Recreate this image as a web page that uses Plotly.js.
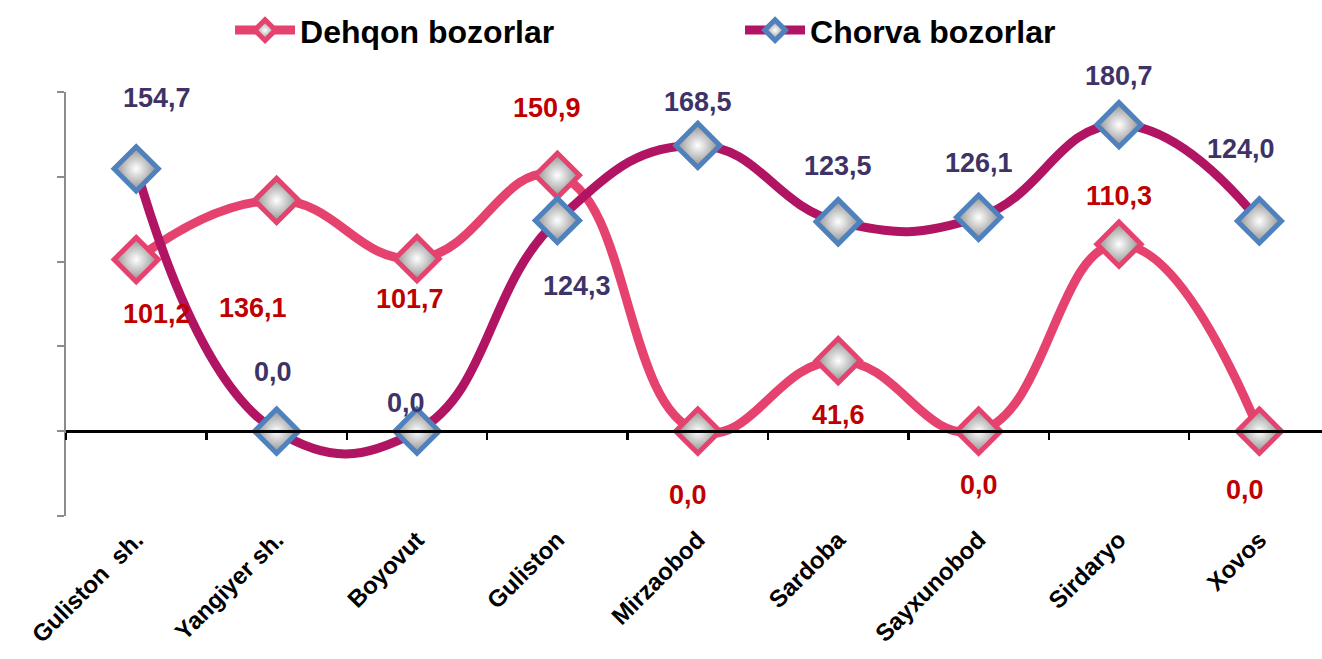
<!DOCTYPE html>
<html>
<head>
<meta charset="utf-8">
<script src="https://cdn.plot.ly/plotly-3.0.1.min.js"></script>
<style>html,body{margin:0;padding:0;background:#fff;}#chart{width:1322px;height:659px;}</style>
</head>
<body>
<div id="chart"></div>
<script>
// ---- data ----
const categories = ["Guliston  sh.", "Yangiyer sh.", "Boyovut", "Guliston", "Mirzaobod", "Sardoba", "Sayxunobod", "Sirdaryo", "Xovos"];
const dehqonName = "Dehqon bozorlar";
const chorvaName = "Chorva bozorlar";
const dehqonValues = [101.2, 136.1, 101.7, 150.9, 0.0, 41.6, 0.0, 110.3, 0.0];
const chorvaValues = [154.7, 0.0, 0.0, 124.3, 168.5, 123.5, 126.1, 180.7, 124.0];
const yTickVals = [-50, 0, 50, 100, 150, 200];

// ---- label offsets (pixels, layout only) ----
const dehqonLabelShift = [[21,-54],[-24,-108],[-7,-40],[-10,67],[-10,-64],[0,-54],[0,-54],[0,48],[-14,-59]];
const chorvaLabelShift = [[21,71],[-4,59],[-11,28],[20,-66],[0,43],[0,56],[0,54],[0,49],[-18,72]];

const fmt = v => v.toFixed(1).replace('.', ',');
const FONT = '"Liberation Sans", Arial, sans-serif';

const dehqonColor = '#E5426F';
const chorvaColor = '#B01462';

const traces = [
  {
    type: 'scatter', mode: 'lines+markers', name: dehqonName,
    x: categories, y: dehqonValues,
    line: {color: dehqonColor, width: 9, shape: 'spline', smoothing: 1.3},
    marker: {symbol: 'diamond', size: 34, color: '#8c8c8c',
             gradient: {type: 'radial', color: '#ffffff'},
             line: {color: dehqonColor, width: 5}},
    hoverinfo: 'skip'
  },
  {
    type: 'scatter', mode: 'lines+markers', name: chorvaName,
    x: categories, y: chorvaValues,
    line: {color: chorvaColor, width: 9, shape: 'spline', smoothing: 1.3},
    marker: {symbol: 'diamond', size: 34, color: '#8c8c8c',
             gradient: {type: 'radial', color: '#ffffff'},
             line: {color: '#4F81BD', width: 5}},
    hoverinfo: 'skip'
  }
];

const annotations = [];
dehqonValues.forEach((v, i) => annotations.push({
  x: categories[i], y: v, xref: 'x', yref: 'y', text: fmt(v), showarrow: false,
  xshift: dehqonLabelShift[i][0], yshift: dehqonLabelShift[i][1],
  font: {family: FONT, size: 27, color: '#C00000', weight: 700}
}));
chorvaValues.forEach((v, i) => annotations.push({
  x: categories[i], y: v, xref: 'x', yref: 'y', text: fmt(v), showarrow: false,
  xshift: chorvaLabelShift[i][0], yshift: chorvaLabelShift[i][1],
  font: {family: FONT, size: 27, color: '#3D3366', weight: 700}
}));

const boundaries = categories.map((c, i) => i - 0.5).concat([categories.length - 0.5]);
const xRange = [-0.5, 8.446];

const layout = {
  width: 1322, height: 659,
  margin: {l: 66, r: 0, t: 92, b: 143},
  paper_bgcolor: '#ffffff', plot_bgcolor: 'rgba(0,0,0,0)',
  font: {family: FONT},
  showlegend: true,
  legend: {
    orientation: 'h', xref: 'container', yref: 'container',
    x: 0.174, xanchor: 'left', y: 0.954, yanchor: 'middle',
    font: {family: FONT, size: 32, color: '#000', weight: 700},
    entrywidth: 435, itemwidth: 60, bgcolor: 'rgba(0,0,0,0)'
  },
  xaxis: {
    type: 'category', categoryarray: categories, range: xRange,
    showline: false, showgrid: false, zeroline: false, ticks: '',
    tickangle: -45, ticklabelstandoff: 4,
    tickfont: {family: FONT, size: 24, color: '#000', weight: 700}
  },
  xaxis2: {
    overlaying: 'x', anchor: 'free', position: 0.2, range: xRange,
    showline: true, linecolor: '#000', linewidth: 2.5,
    ticks: 'outside', ticklen: 7, tickwidth: 2.5, tickcolor: '#000',
    tickmode: 'array', tickvals: boundaries, showticklabels: false,
    showgrid: false, zeroline: false
  },
  yaxis: {
    range: [-50, 200], showgrid: false, zeroline: false,
    showline: true, linecolor: '#8c8c8c', linewidth: 2,
    ticks: 'outside', ticklen: 7, tickwidth: 2, tickcolor: '#8c8c8c',
    tickmode: 'array', tickvals: yTickVals, showticklabels: false
  },
  annotations: annotations
};

// dummy trace so xaxis2 is rendered
traces.push({type: 'scatter', x: [0], y: [null], xaxis: 'x2', yaxis: 'y', showlegend: false, hoverinfo: 'skip', mode: 'lines'});

Plotly.newPlot('chart', traces, layout, {displayModeBar: false, staticPlot: true});
</script>
</body>
</html>
